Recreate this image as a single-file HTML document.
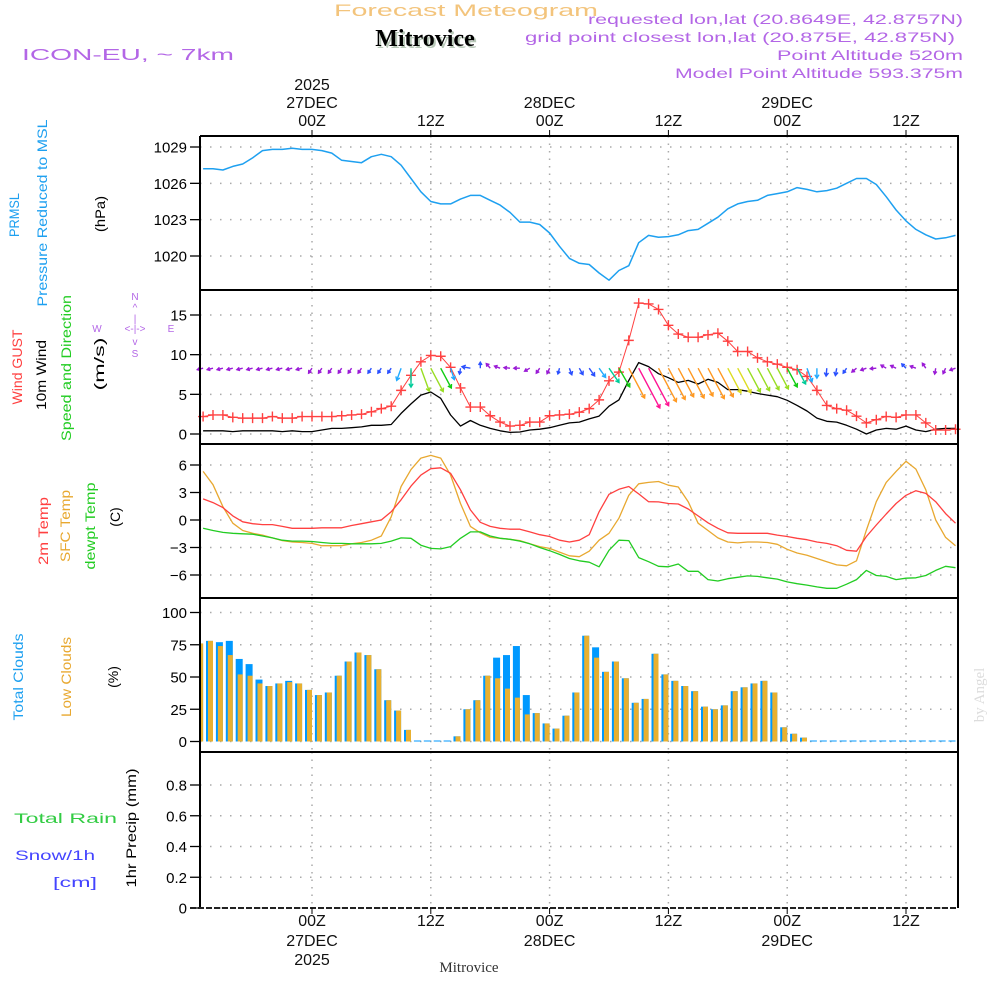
<!DOCTYPE html>
<html><head><meta charset="utf-8"><title>Forecast Meteogram - Mitrovice</title>
<style>
html,body{margin:0;padding:0;background:#fff;}
svg{display:block;font-family:"Liberation Sans",sans-serif;}
</style></head>
<body>
<svg id="chart" width="1000" height="1000" viewBox="0 0 1000 1000" xmlns="http://www.w3.org/2000/svg">
<g>
<text x="466" y="16" text-anchor="middle" font-size="17" fill="#f3c47c" textLength="264" lengthAdjust="spacingAndGlyphs">Forecast Meteogram</text>
<text x="427" y="48" text-anchor="middle" font-family="Liberation Serif,serif" font-weight="bold" font-size="24" fill="#b9c9b9">Mitrovice</text>
<text x="425" y="46" text-anchor="middle" font-family="Liberation Serif,serif" font-weight="bold" font-size="24" fill="#000">Mitrovice</text>
<text x="22" y="60" font-size="16" fill="#b366e6" textLength="212" lengthAdjust="spacingAndGlyphs">ICON-EU, ~ 7km</text>
<text x="963" y="24" text-anchor="end" font-size="14" fill="#b366e6" textLength="375" lengthAdjust="spacingAndGlyphs">requested lon,lat (20.8649E, 42.8757N)</text>
<text x="955" y="42" text-anchor="end" font-size="14" fill="#b366e6" textLength="430" lengthAdjust="spacingAndGlyphs">grid point closest lon,lat (20.875E, 42.875N)</text>
<text x="963" y="60" text-anchor="end" font-size="14" fill="#b366e6" textLength="186" lengthAdjust="spacingAndGlyphs">Point Altitude 520m</text>
<text x="963" y="78" text-anchor="end" font-size="14" fill="#b366e6" textLength="288" lengthAdjust="spacingAndGlyphs">Model Point Altitude 593.375m</text>
</g>
<g font-size="14">
<text transform="translate(19,215) rotate(-90)" text-anchor="middle" fill="#1ea0f0" textLength="44" lengthAdjust="spacingAndGlyphs">PRMSL</text>
<text transform="translate(47,213) rotate(-90)" text-anchor="middle" fill="#1ea0f0" textLength="187" lengthAdjust="spacingAndGlyphs">Pressure Reduced to MSL</text>
<text transform="translate(105,214) rotate(-90)" text-anchor="middle" fill="#000" textLength="36" lengthAdjust="spacingAndGlyphs">(hPa)</text>
<text transform="translate(22,367) rotate(-90)" text-anchor="middle" fill="#ff4040" textLength="75" lengthAdjust="spacingAndGlyphs">Wind GUST</text>
<text transform="translate(46,375) rotate(-90)" text-anchor="middle" fill="#000" textLength="70" lengthAdjust="spacingAndGlyphs">10m Wind</text>
<text transform="translate(71,368) rotate(-90)" text-anchor="middle" fill="#22cc22" textLength="146" lengthAdjust="spacingAndGlyphs">Speed and Direction</text>
<text transform="translate(104,364) rotate(-90)" text-anchor="middle" fill="#000" textLength="53" lengthAdjust="spacingAndGlyphs">(m/s)</text>
<g fill="#b366e6" font-size="10" text-anchor="middle">
<text x="97" y="332">W</text><text x="135" y="332">&lt;-|-&gt;</text><text x="171" y="332">E</text>
<text x="135" y="300">N</text><text x="135" y="311">^</text><text x="135" y="322">|</text><text x="135" y="345">v</text><text x="135" y="357">S</text>
</g>
<text transform="translate(48,531) rotate(-90)" text-anchor="middle" fill="#ff4040" textLength="68" lengthAdjust="spacingAndGlyphs">2m Temp</text>
<text transform="translate(70,526) rotate(-90)" text-anchor="middle" fill="#e8a830" textLength="72" lengthAdjust="spacingAndGlyphs">SFC Temp</text>
<text transform="translate(95,526) rotate(-90)" text-anchor="middle" fill="#22cc22" textLength="87" lengthAdjust="spacingAndGlyphs">dewpt Temp</text>
<text transform="translate(120,517) rotate(-90)" text-anchor="middle" fill="#000">(C)</text>
<text transform="translate(23,677) rotate(-90)" text-anchor="middle" fill="#1ea0f0" textLength="87" lengthAdjust="spacingAndGlyphs">Total Clouds</text>
<text transform="translate(71,677) rotate(-90)" text-anchor="middle" fill="#e8a830" textLength="80" lengthAdjust="spacingAndGlyphs">Low Clouds</text>
<text transform="translate(118,677) rotate(-90)" text-anchor="middle" fill="#000">(%)</text>
<text x="14" y="823" fill="#33cc44" textLength="103" lengthAdjust="spacingAndGlyphs">Total   Rain</text>
<text x="15" y="860" fill="#4444ff" textLength="80" lengthAdjust="spacingAndGlyphs">Snow/1h</text>
<text x="53" y="887" fill="#4444ff" textLength="44" lengthAdjust="spacingAndGlyphs">[cm]</text>
<text transform="translate(136,828) rotate(-90)" text-anchor="middle" fill="#000" textLength="119" lengthAdjust="spacingAndGlyphs">1hr Precip (mm)</text>
</g>
<text transform="translate(984,695) rotate(-90)" text-anchor="middle" font-family="Liberation Serif,serif" font-size="15" fill="#dcdcdc">by Angel</text>
<text x="469" y="972" text-anchor="middle" font-family="Liberation Serif,serif" font-size="15" fill="#333">Mitrovice</text>
<g id="plot"></g>
</svg>
<script>
const pressure=[1027.2,1027.2,1027.1,1027.4,1027.6,1028.1,1028.7,1028.8,1028.8,1028.9,1028.8,1028.8,1028.7,1028.5,1027.9,1027.8,1027.7,1028.2,1028.4,1028.2,1027.5,1026.4,1025.3,1024.5,1024.3,1024.3,1024.7,1025.0,1025.0,1024.6,1024.2,1023.6,1022.8,1022.8,1022.6,1021.9,1020.8,1019.8,1019.4,1019.3,1018.6,1018.0,1018.8,1019.2,1021.1,1021.7,1021.55,1021.6,1021.75,1022.1,1022.2,1022.7,1023.2,1023.9,1024.3,1024.5,1024.6,1025.0,1025.15,1025.3,1025.65,1025.5,1025.3,1025.4,1025.6,1026.0,1026.4,1026.4,1025.9,1024.9,1023.8,1022.9,1022.2,1021.75,1021.4,1021.5,1021.7];
const gust=[2.2,2.4,2.4,2.1,2.0,2.0,2.0,2.2,2.0,2.0,2.2,2.2,2.2,2.2,2.3,2.4,2.5,2.8,3.2,3.5,5.5,7.4,9.1,9.9,9.8,8.4,5.8,3.4,3.4,2.3,1.5,1.0,1.1,1.5,1.5,2.3,2.4,2.5,2.75,3.2,4.3,6.7,7.8,11.8,16.5,16.4,15.7,13.7,12.6,12.2,12.2,12.5,12.7,11.7,10.4,10.4,9.6,9.1,8.8,8.4,8.1,7.25,5.5,3.6,3.2,3.0,2.25,1.4,1.8,2.2,2.1,2.4,2.4,1.4,0.5,0.5,0.6];
const wind10=[0.4,0.4,0.4,0.3,0.4,0.4,0.4,0.4,0.3,0.4,0.3,0.3,0.5,0.7,0.7,0.8,0.9,1.1,1.1,1.2,2.6,3.8,4.9,5.3,4.5,2.4,1.0,1.7,1.1,0.7,0.4,0.2,0.25,0.5,0.6,0.8,1.1,1.4,1.5,1.9,2.25,3.5,4.3,6.75,9.0,8.5,7.6,7.1,6.5,6.75,6.3,6.9,6.5,5.6,5.6,5.4,5.1,4.9,4.7,4.25,3.6,2.9,2.0,1.6,1.5,1.1,0.6,0.0,0.5,0.7,0.6,1.0,0.5,0.3,0.6,0.7,0.7];
const windDir=[165,165,165,165,165,165,165,165,165,165,165,125,125,125,125,125,125,125,125,125,110,90,70,62,62,72,100,190,270,230,200,185,180,150,125,115,105,70,60,55,55,55,60,62,62,62,62,62,62,62,62,62,62,62,62,62,62,62,62,62,62,70,90,95,100,125,140,160,175,210,205,225,200,235,100,115,160];
const temp2m=[2.3,1.9,1.35,0.45,-0.2,-0.4,-0.5,-0.5,-0.7,-0.9,-0.9,-0.9,-0.85,-0.85,-0.85,-0.6,-0.4,-0.2,0,0.9,2.2,3.7,4.9,5.6,5.7,5.1,3.3,1.1,-0.25,-0.7,-0.9,-1.0,-1.0,-1.3,-1.6,-1.8,-2.2,-2.4,-2.2,-1.6,0.9,2.8,3.35,3.65,2.85,2.0,1.97,1.8,1.75,1.2,0.45,-0.3,-0.9,-1.4,-1.45,-1.45,-1.45,-1.45,-1.65,-1.8,-2.0,-2.15,-2.4,-2.55,-2.8,-3.3,-3.4,-1.8,-0.55,0.65,1.8,2.7,3.2,2.9,2.0,0.7,-0.35];
const tempSfc=[5.3,3.85,1.45,-0.35,-1.15,-1.45,-1.65,-1.95,-2.25,-2.4,-2.45,-2.55,-2.8,-2.8,-2.8,-2.6,-2.45,-2.2,-1.75,0.35,3.65,5.5,6.75,7.05,6.75,4.9,1.8,-0.7,-1.4,-1.9,-2.0,-2.1,-2.25,-2.6,-2.9,-3.1,-3.5,-3.9,-4.0,-3.4,-2.2,-1.45,0.2,2.7,3.95,4.1,4.2,3.8,3.6,2.0,-0.35,-1.15,-1.95,-2.4,-2.5,-2.4,-2.4,-2.45,-2.65,-3.2,-3.6,-3.85,-4.2,-4.55,-4.9,-5.0,-4.45,-1.1,2.0,4.1,5.3,6.4,5.55,3.3,0.0,-1.9,-2.8];
const dewpt=[-0.9,-1.15,-1.35,-1.45,-1.5,-1.55,-1.75,-1.95,-2.2,-2.3,-2.3,-2.35,-2.45,-2.55,-2.55,-2.6,-2.6,-2.6,-2.55,-2.3,-1.95,-2.0,-2.75,-3.1,-3.15,-2.9,-2.0,-1.3,-1.3,-1.75,-2.0,-2.1,-2.3,-2.6,-3.0,-3.35,-3.75,-4.2,-4.45,-4.6,-5.1,-3.3,-2.2,-2.25,-4.1,-4.55,-5.05,-5.1,-4.8,-5.6,-5.6,-6.5,-6.65,-6.4,-6.25,-6.1,-6.15,-6.3,-6.45,-6.75,-6.95,-7.1,-7.3,-7.45,-7.45,-7.0,-6.5,-5.5,-6.05,-6.15,-6.5,-6.35,-6.3,-6.05,-5.5,-5.05,-5.2];
const totalClouds=[76,78,77,78,64,60,48,43,45,47,45,40,36,38,51,62,69,67,56,32,24,9,0,0,0,0,4,25,32,51,65,67,74,36,22,14,10,20,38,82,73,54,62,49,30,33,68,52,47,43,39,27,25,28,39,42,45,47,38,11,6,3,0,0,0,0,0,0,0,0,0,0,0,0,0,0,0];
const lowClouds=[76,78,74,67,52,51,45,43,45,46,45,40,36,38,51,62,69,67,56,32,24,9,0,0,0,0,4,25,32,51,49,41,34,21,22,14,10,20,38,82,65,54,62,49,30,33,68,52,47,43,39,27,25,28,39,42,45,47,38,11,6,3,0,0,0,0,0,0,0,0,0,0,0,0,0,0,0];
const precip=[0,0,0,0,0,0,0,0,0,0,0,0,0,0,0,0,0,0,0,0,0,0,0,0,0,0,0,0,0,0,0,0,0,0,0,0,0,0,0,0,0,0,0,0,0,0,0,0,0,0,0,0,0,0,0,0,0,0,0,0,0,0,0,0,0,0,0,0,0,0,0,0,0,0,0,0,0];
const pressureTicks=[1020,1023,1026,1029];
const windTicks=[0,5,10,15];
const tempTicks=[-6,-3,0,3,6];
const cloudTicks=[0,25,50,75,100];
const precipTicks=[0,0.2,0.4,0.6,0.8];
const firstHour=-11;
const timeTicks=[0,12,24,36,48,60];
const timeLabels=["00Z","12Z","00Z","12Z","00Z","12Z"];
const dayLabels=["27DEC","","28DEC","","29DEC",""];
const yearLabels=["2025","","","","",""];

const NS="http://www.w3.org/2000/svg";
const plot=document.getElementById('plot');
const X0=200,X1=958;
function xT(t){return 312+t*9.9;}
function lin(d0,d1,p0,p1){return v=>p0+(v-d0)*(p1-p0)/(d1-d0);}
const yP=lin(1020,1029,256,147);
const yW=lin(0,15,434,315);
const yTm=lin(0,6,520,465);
const yC=lin(0,100,741.5,612.5);
const yR=lin(0,0.8,908,785);
function mk(tag,attrs,parent){const e=document.createElementNS(NS,tag);for(const k in attrs)e.setAttribute(k,attrs[k]);(parent||plot).appendChild(e);return e;}
function tOf(i){return firstHour+i;}

const panels=[
 {name:'pressure',top:136,bot:290,ticks:pressureTicks,y:yP,fmt:v=>String(v)},
 {name:'wind',top:290,bot:444,ticks:windTicks,y:yW,fmt:v=>String(v)},
 {name:'temperature',top:444,bot:598,ticks:tempTicks,y:yTm,fmt:v=>(v<0?'\u2212'+(-v):String(v))},
 {name:'clouds',top:598,bot:752,ticks:cloudTicks,y:yC,fmt:v=>String(v)},
 {name:'precip',top:752,bot:908,ticks:precipTicks,y:yR,fmt:v=>(v===0?'0':v.toFixed(1))}
];
panels.forEach(p=>{
  const g=mk('g',{});
  
  
  timeTicks.forEach(t=>{
    const l=mk('line',{x1:xT(t),x2:xT(t),y1:p.top,y2:p.bot,stroke:'#aaa','stroke-width':1.5,'stroke-dasharray':'1.5 6'},g);
    
    
  });
  p.ticks.forEach(v=>{
    const y=p.y(v);
    const l=mk('line',{x1:X0,x2:X1,y1:y,y2:y,stroke:'#aaa','stroke-width':1.5,'stroke-dasharray':'1.5 8.5'},g);
    
    
    const tk=mk('line',{x1:190,x2:X0,y1:y,y2:y,stroke:'#000','stroke-width':1.3},g);
    
    
    const tx=mk('text',{x:187,y:y+5.5,'text-anchor':'end','font-size':15,fill:'#000'},g);
    
    
    tx.textContent=p.fmt(v);
  });
});

function polyline(vals,yf,color,name,w){
  const pts=vals.map((v,i)=>xT(tOf(i)).toFixed(1)+','+yf(v).toFixed(1)).join(' ');
  const e=mk('polyline',{points:pts,fill:'none',stroke:color,'stroke-width':w||1.3,'stroke-linejoin':'round'});
  
  
  return e;
}
polyline(pressure,yP,'#1ea0f0','pressure-line',1.5);

totalClouds.forEach((v,i)=>{
  const x=xT(tOf(i));
  const h=Math.max(1,yC(0)-yC(v));
  const r=mk('rect',{x:Math.max(X0,x-7),y:yC(0)-h,width:Math.max(0,x-Math.max(X0,x-7)),height:h,fill:'#0099ff'});
  
  
});
lowClouds.forEach((v,i)=>{
  const x=xT(tOf(i));
  if(v<=0)return;
  const h=yC(0)-yC(v);
  const r=mk('rect',{x:Math.max(X0,x-5),y:yC(0)-h,width:Math.max(0,x-Math.max(X0,x-5)),height:h,fill:'#e8b030'});
  
  
});

polyline(tempSfc,yTm,'#e8a830','sfc-temp-line');
polyline(temp2m,yTm,'#ff4040','temp-2m-line');
polyline(dewpt,yTm,'#22cc22','dewpt-line');

polyline(wind10,yW,'#000','wind-10m-line',1.3);
polyline(gust,yW,'#ff4040','wind-gust-line',1);
gust.forEach((v,i)=>{
  const x=xT(tOf(i)),y=yW(v);
  const m=mk('path',{d:`M${x-5} ${y}H${x+5}M${x} ${y-5}V${y+5}`,stroke:'#ff4040','stroke-width':1.4});
  
  
});
function windColor(s){
  if(s<1)return '#9a1ad6';
  if(s<2)return '#2a50ff';
  if(s<3)return '#22aaff';
  if(s<4)return '#00cc99';
  if(s<4.7)return '#11cc11';
  if(s<5.5)return '#99dd22';
  if(s<5.8)return '#dddd22';
  if(s<8)return '#ff9922';
  return '#ff1493';
}
const arrowBase=yW(8.3);
wind10.forEach((s,i)=>{
  const x=xT(tOf(i));
  const a=windDir[i]*Math.PI/180;
  const L=Math.max(6,s*5);
  const x2=x+L*Math.cos(a),y2=arrowBase+L*Math.sin(a);
  const hl=Math.min(4,L*0.55),ha=0.55;
  const h1x=x2-hl*Math.cos(a-ha),h1y=y2-hl*Math.sin(a-ha);
  const h2x=x2-hl*Math.cos(a+ha),h2y=y2-hl*Math.sin(a+ha);
  const c=windColor(s);
  const e=mk('path',{d:`M${x.toFixed(1)} ${arrowBase.toFixed(1)}L${x2.toFixed(1)} ${y2.toFixed(1)}M${h1x.toFixed(1)} ${h1y.toFixed(1)}L${x2.toFixed(1)} ${y2.toFixed(1)}L${h2x.toFixed(1)} ${h2y.toFixed(1)}`,stroke:c,'stroke-width':1.4,fill:'none'});
  
  
});

precip.forEach((v,i)=>{
  if(v<=0)return;
  const x=xT(tOf(i));
  const r=mk('rect',{x:x-6,y:yR(v),width:6,height:yR(0)-yR(v),fill:'#33cc44'});
  
  
});

const fr=mk('g',{});


mk('path',{d:`M${X0} 136H${X1}V908M${X0} 136V908`,stroke:'#000','stroke-width':2,fill:'none'},fr);
[290,444,598,752].forEach(y=>mk('line',{x1:X0,x2:X1,y1:y,y2:y,stroke:'#000','stroke-width':2},fr));
mk('line',{x1:X0-10,x2:X1,y1:908,y2:908,stroke:'#222','stroke-width':2,'stroke-dasharray':'6 2'},fr);

timeTicks.forEach((t,k)=>{
  const x=xT(t);
  const a=mk('line',{x1:x,x2:x,y1:130,y2:136,stroke:'#000','stroke-width':1});
  
  
  const b=mk('line',{x1:x,x2:x,y1:908,y2:914,stroke:'#000','stroke-width':1});
  
  
  const rows=[[timeLabels[k],126,926],[dayLabels[k],108,946],[yearLabels[k],90,965]];
  rows.forEach((r,j)=>{
    if(!r[0])return;
    const tt=mk('text',{x:x,y:r[1],'text-anchor':'middle','font-size':16,fill:'#111'});
    
    
    tt.textContent=r[0];
    const tb=mk('text',{x:x,y:r[2],'text-anchor':'middle','font-size':16,fill:'#111'});
    
    
    tb.textContent=r[0];
  });
});
</script>
</body></html>
